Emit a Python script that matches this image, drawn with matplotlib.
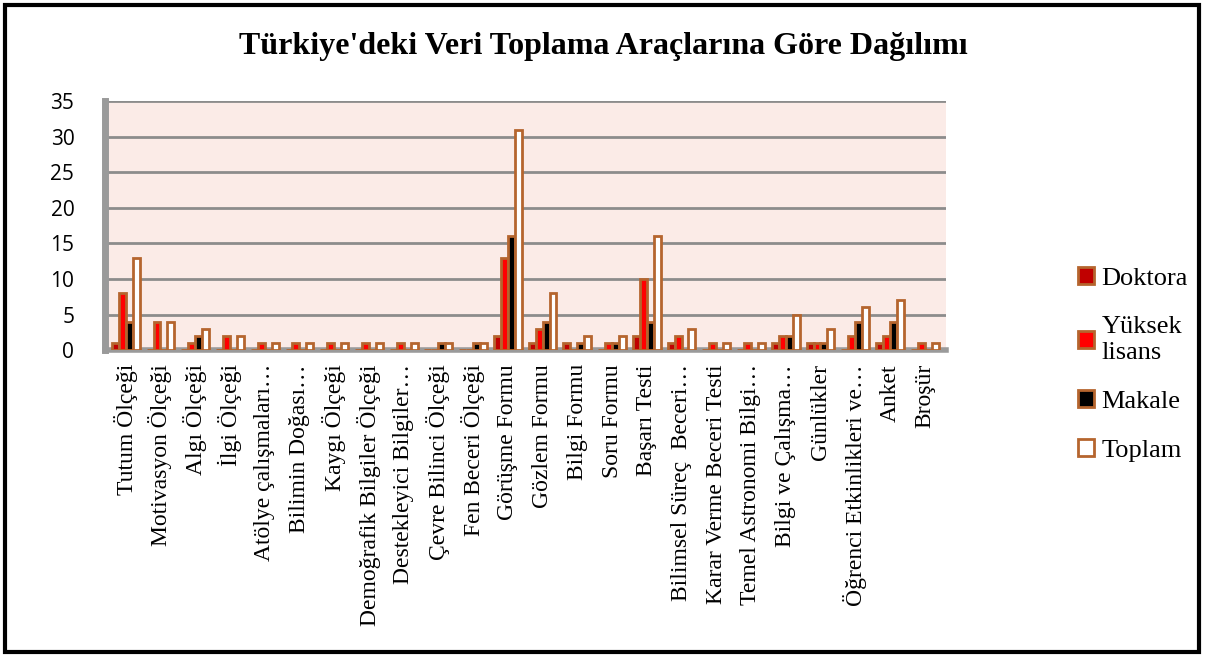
import numpy as np
import matplotlib
matplotlib.use("Agg")
from matplotlib import pyplot as plt
from matplotlib.patches import Rectangle

categories = [
    "Tutum Ölçeği", "Motivasyon Ölçeği", "Algı Ölçeği", "İlgi Ölçeği",
    "Atölye çalışmaları…", "Bilimin Doğası…", "Kaygı Ölçeği",
    "Demoğrafik Bilgiler Ölçeği", "Destekleyici Bilgiler…",
    "Çevre Bilinci Ölçeği", "Fen Beceri Ölçeği", "Görüşme Formu",
    "Gözlem Formu", "Bilgi Formu", "Soru Formu", "Başarı Testi",
    "Bilimsel Süreç  Beceri…", "Karar Verme Beceri Testi",
    "Temel Astronomi Bilgi…", "Bilgi ve Çalışma…", "Günlükler",
    "Öğrenci Etkinlikleri ve…", "Anket", "Broşür",
]
doktora = [1, 0, 0, 0, 0, 0, 0, 0, 0, 0, 0, 2, 1, 1, 0, 2, 1, 0, 0, 1, 1, 0, 1, 0]
yuksek_lisans = [8, 4, 1, 2, 1, 1, 1, 1, 1, 0, 0, 13, 3, 0, 1, 10, 2, 1, 1, 2, 1, 2, 2, 1]
makale = [4, 0, 2, 0, 0, 0, 0, 0, 0, 1, 1, 16, 4, 1, 1, 4, 0, 0, 0, 2, 1, 4, 4, 0]
toplam = [13, 4, 3, 2, 1, 1, 1, 1, 1, 1, 1, 31, 8, 2, 2, 16, 3, 1, 1, 5, 3, 6, 7, 1]

series = [
    ("Doktora", doktora, "#C00000"),
    ("Yüksek\nlisans", yuksek_lisans, "#FF0000"),
    ("Makale", makale, "#000000"),
    ("Toplam", toplam, "#FFFFFF"),
]
edge = "#B5652E"

fig = plt.figure(figsize=(12.06, 6.57), dpi=100)
ax = fig.add_axes([0.087, 0.467, 0.697, 0.379])
ax.set_facecolor("#FBEBE7")

x = np.arange(len(categories))
w = 0.2
for i, (name, vals, col) in enumerate(series):
    ax.bar(x + (i - 1.5) * w, vals, width=w, color=col, edgecolor=edge,
           linewidth=2, label=name, zorder=3)

ax.set_xlim(-0.6, len(categories) - 0.4)
ax.set_ylim(0, 35)
ax.set_yticks(range(0, 36, 5))
ax.yaxis.grid(True, color="#8C8C8C", linewidth=2, zorder=0)
ax.set_axisbelow(True)
for s in ["top", "right"]:
    ax.spines[s].set_visible(False)
ax.spines["left"].set_color("#9A9A9A")
ax.spines["left"].set_linewidth(5)
ax.spines["bottom"].set_color("#9A9A9A")
ax.spines["bottom"].set_linewidth(4)
ax.tick_params(axis="y", length=0, pad=22, labelsize=15)
ax.tick_params(axis="x", length=0, pad=10)
for lab in ax.get_yticklabels():
    lab.set_fontfamily("Open Sans")
ax.set_xticks(x)
ax.set_xticklabels(categories, rotation=90, fontfamily="Liberation Serif",
                   fontsize=17)

fig.suptitle("Türkiye'deki Veri Toplama Araçlarına Göre Dağılımı",
             fontfamily="Liberation Serif", fontweight="bold", fontsize=23,
             y=0.952)

leg = fig.legend(loc="center left", bbox_to_anchor=(0.874, 0.445),
                 frameon=False, handlelength=0.6, handleheight=0.6,
                 handletextpad=0.3, labelspacing=1.0,
                 prop={"family": "Liberation Serif", "size": 19})

fig.patches.append(Rectangle((0.004, 0.008), 0.99, 0.985, transform=fig.transFigure,
                             fill=False, edgecolor="black", linewidth=3))

fig.savefig("out.png", dpi=100)
